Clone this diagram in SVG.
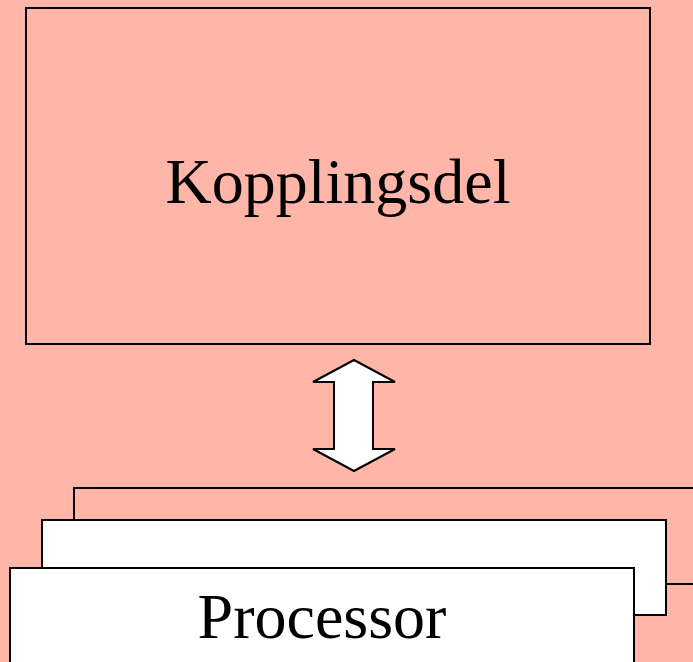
<svg xmlns="http://www.w3.org/2000/svg" width="693" height="662" viewBox="0 0 693 662">
<style>
.box{stroke:#000;stroke-width:2}
.lbl{font-family:"Liberation Serif","Times New Roman",serif;font-size:64px;fill:#000;text-anchor:middle}
</style>
<rect x="0" y="0" width="693" height="662" fill="#FFB5A8"/>
<g id="kopplingsdel">
<rect class="box" x="26" y="8" width="624" height="336" fill="#FFB5A8"/>
<text class="lbl" x="338" y="203">Kopplingsdel</text>
</g>
<g id="connectors">
<polygon points="354,360 395,382 373,382 373,449 395,449 354,471 313,449 334,449 334,382 313,382" fill="#fff" stroke="#000" stroke-width="2" stroke-linejoin="miter"/>
</g>
<g id="processor3">
<rect class="box" x="74" y="488" width="640" height="96" fill="#FFB5A8"/>
</g>
<g id="processor2">
<rect class="box" x="42" y="520" width="624" height="95" fill="#fff"/>
</g>
<g id="processor">
<rect class="box" x="10" y="568" width="624" height="110" fill="#fff"/>
<text class="lbl" x="322" y="638">Processor</text>
</g>
</svg>
